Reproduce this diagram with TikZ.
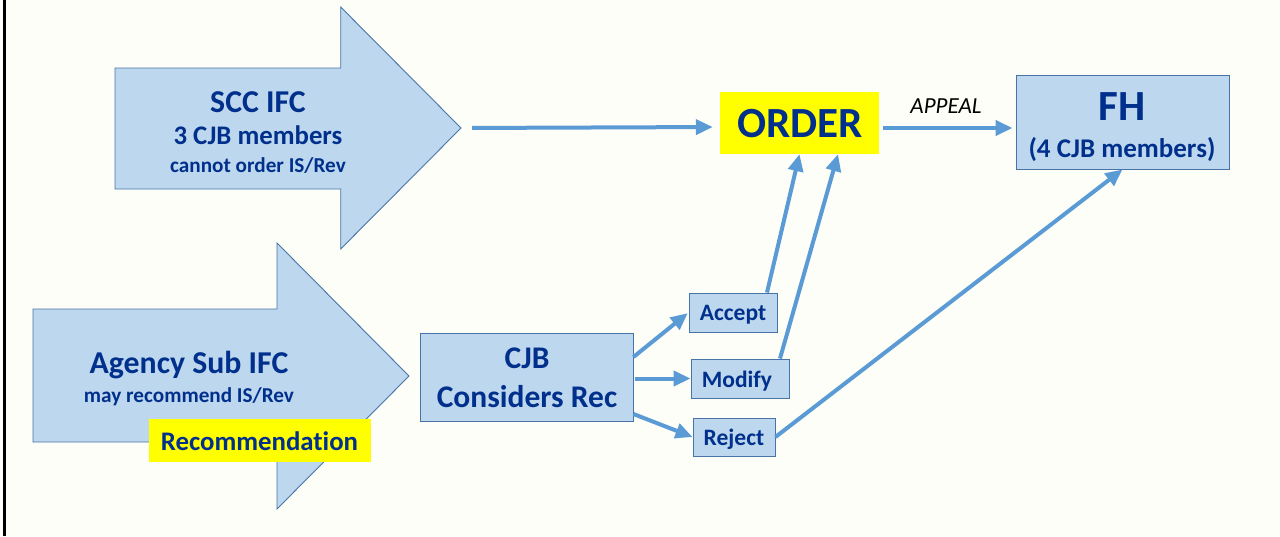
\documentclass[tikz,border=0pt]{standalone}
\usepackage{fontspec}
\setmainfont{Carlito}[RawFeature=-liga]
\usetikzlibrary{arrows.meta}
\definecolor{bgc}{RGB}{253,254,248}
\definecolor{boxfill}{RGB}{189,215,238}
\definecolor{boxline}{RGB}{72,116,168}
\definecolor{txtblue}{RGB}{0,48,140}
\definecolor{conncol}{RGB}{91,155,213}
\definecolor{hiyellow}{RGB}{255,255,0}
\tikzset{
  bigarrow/.style={fill=boxfill, draw=boxline, line width=0.9pt, line join=miter},
  stepbox/.style={rectangle, fill=boxfill, draw=boxline, line width=0.9pt, inner sep=0pt},
  hibox/.style={rectangle, fill=hiyellow, draw=none, inner sep=0pt},
  lbl/.style={anchor=base, inner sep=0pt, text=txtblue, font=\bfseries\fontsize{#1}{#1}\selectfont},
  conn/.style={draw=conncol, line width=4pt, -{Triangle[length=17pt,width=15pt]}},
}
\begin{document}
\begin{tikzpicture}[x=1pt,y=-1pt]
\useasboundingbox[fill=bgc] (0,0) rectangle (1280,536);
\draw[black, line width=3pt] (4.3,0) -- (4.3,536);
% big arrows
\draw[bigarrow] (115,68) -- (340.7,68) -- (340.7,7) -- (461,128) -- (340.7,249) -- (340.7,189) -- (115,189) -- cycle;
\coordinate (scctip) at (461,128);
\draw[bigarrow] (33,309) -- (277,309) -- (277,243) -- (409,376) -- (277,509) -- (277,442) -- (33,442) -- cycle;
% SCC text
\node[lbl=31.8] (scc1) at (258,112) {SCC IFC};
\node[lbl=26.8] (scc2) at (258,144) {3 CJB members};
\node[lbl=21.2] (scc3) at (258,172) {cannot order IS/Rev};
% Agency text
\node[lbl=31.8] (ag1) at (189,373) {Agency Sub IFC};
\node[lbl=21.2] (ag2) at (189,402) {may recommend IS/Rev};
\node[hibox, minimum width=222pt, minimum height=43pt] (rec) at (260,440.5) {};
\node[lbl=26.8] (rect) at (259.5,450) {Recommendation};
% boxes
\node[stepbox, minimum width=213pt, minimum height=88pt] (cjb) at (526.5,377) {};
\node[lbl=31.5] (cjb1) at (527,368) {CJB};
\node[lbl=31.5] (cjb2) at (527,407) {Considers Rec};
\node[stepbox, minimum width=88pt, minimum height=39pt] (accept) at (733,312.5) {};
\node[lbl=23.5] (acct) at (733,320) {Accept};
\node[stepbox, minimum width=98pt, minimum height=39pt] (modify) at (740,378.5) {};
\node[lbl=23.5] (modt) at (737,387) {Modify};
\node[stepbox, minimum width=82pt, minimum height=38pt] (reject) at (734,437) {};
\node[lbl=23.5] (rejt) at (734,445) {Reject};
\node[hibox, minimum width=159pt, minimum height=62pt] (order) at (799.5,123) {};
\node[lbl=43] (ordt) at (800,137) {ORDER};
\node[stepbox, minimum width=213pt, minimum height=94pt] (fh) at (1122.5,122) {};
\node[lbl=43] (fh1) at (1122,120) {FH};
\node[lbl=27] (fh2) at (1122,157) {(4 CJB members)};
% connectors
\draw[conn, shorten <=11pt, shorten >=7pt] (scctip) -- ([yshift=-4pt]order.west);
\draw[conn, shorten <=4pt, shorten >=3pt] ([yshift=-5pt]order.east) -- ([yshift=-5pt]order.east -| fh.west);
\node[anchor=base, inner sep=0pt, font=\itshape\fontsize{23}{23}\selectfont, text=black] (appeal) at (946,113) {APPEAL};
\draw[conn, shorten >=1pt] ([yshift=20pt]cjb.east) -- (accept.west);
\draw[conn, shorten <=2pt] ([yshift=-1.5pt]cjb.east) -- (modify.west);
\draw[conn] ([yshift=-37pt]cjb.east) -- (reject.west);
\draw[conn] ([xshift=34pt]accept.north) -- (order.south);
\draw[conn] ([xshift=40pt]modify.north) -- ([xshift=38.5pt]order.south);
\draw[conn] (reject.east) -- (fh.south);
\end{tikzpicture}
\end{document}
